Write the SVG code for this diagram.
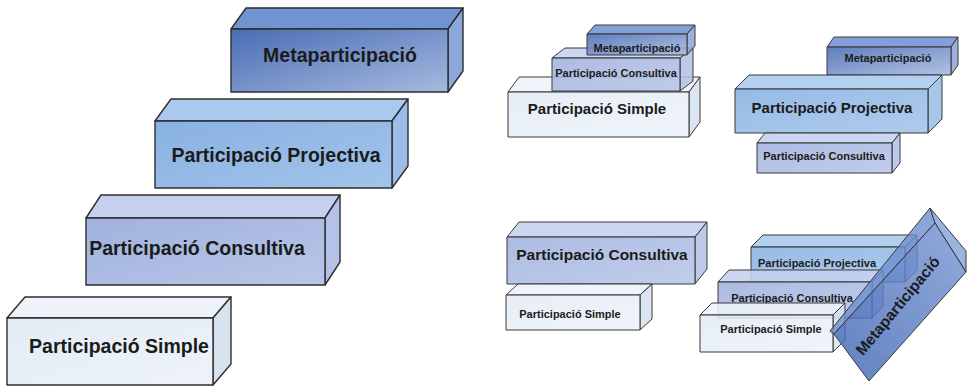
<svg xmlns="http://www.w3.org/2000/svg" width="967" height="388" viewBox="0 0 967 388">
<defs>
<linearGradient id="gMeta" x1="0" y1="0" x2="1" y2="1"><stop offset="0" stop-color="#4a6cb4"/><stop offset="1" stop-color="#a6badf"/></linearGradient>
<linearGradient id="gProj" x1="0" y1="0" x2="1" y2="1"><stop offset="0" stop-color="#88b1e2"/><stop offset="1" stop-color="#a3c4ea"/></linearGradient>
<linearGradient id="gCons" x1="0" y1="0" x2="1" y2="1"><stop offset="0" stop-color="#a0b2dd"/><stop offset="1" stop-color="#b8c6e8"/></linearGradient>
<linearGradient id="gSimp" x1="0" y1="0" x2="1" y2="1"><stop offset="0" stop-color="#e3ebf5"/><stop offset="1" stop-color="#eef3f9"/></linearGradient>
<linearGradient id="gBar" x1="0" y1="1" x2="1" y2="0"><stop offset="0" stop-color="#3f64b4"/><stop offset="1" stop-color="#7a98d4"/></linearGradient>
</defs>
<style>
.e{stroke:#2e2e2e;stroke-width:1.4;stroke-linejoin:round}
.s{stroke:#3a3a3a;stroke-width:1;stroke-linejoin:round}
.t{font-family:"Liberation Sans",Arial,sans-serif;font-weight:bold;fill:#1b1b1b;text-anchor:middle}
.mF{fill:url(#gMeta)}.mT{fill:#7193d2}.mS{fill:#8ea7da}
.pF{fill:url(#gProj)}.pT{fill:#a9c9ee}.pS{fill:#9cbde7}
.cF{fill:url(#gCons)}.cT{fill:#c4d0ee}.cS{fill:#b3c2e6}
.sF{fill:url(#gSimp)}.sT{fill:#eef3f9}.sS{fill:#d6e2ee}
.tr{fill-opacity:0.88}
</style>
<rect width="967" height="388" fill="#ffffff"/>

<!-- Left staircase -->
<g id="L-meta" class="e">
<polygon class="mT" points="231,29 246,8 463,8 448,29"/>
<polygon class="mS" points="448,29 463,8 463,71 448,92"/>
<rect class="mF" x="231" y="29" width="217" height="63"/>
<text class="t" x="340" y="62" font-size="19.5" stroke="none">Metaparticipació</text>
</g>
<g id="L-proj" class="e">
<polygon class="pT" points="155,121 171,99 408,99 392,121"/>
<polygon class="pS" points="392,121 408,99 408,166 392,188"/>
<rect class="pF" x="155" y="121" width="237" height="67"/>
<text class="t" x="276" y="162" font-size="19.5" stroke="none">Participació Projectiva</text>
</g>
<g id="L-cons" class="e">
<polygon class="cT" points="86,218 101,195 340,195 325,218"/>
<polygon class="cS" points="325,218 340,195 340,262 325,285"/>
<rect class="cF" x="86" y="218" width="239" height="67"/>
<text class="t" x="197" y="255" font-size="19.5" stroke="none">Participació Consultiva</text>
</g>
<g id="L-simp" class="e">
<polygon class="sT" points="7,318 25,297 231,297 213,318"/>
<polygon class="sS" points="213,318 231,297 231,364 213,385"/>
<rect class="sF" x="7" y="318" width="206" height="67"/>
<text class="t" x="119" y="353" font-size="19.5" stroke="none">Participació Simple</text>
</g>

<!-- Top-right group 1 (pyramid) -->
<g id="A-simp" class="s tr">
<polygon class="sT" points="508,92 519,77 700,77 689,92"/>
<polygon class="sS" points="689,92 700,77 700,122 689,137"/>
<rect class="sF" x="508" y="92" width="181" height="45"/>
<text class="t" x="597" y="114" font-size="15" stroke="none" fill-opacity="1">Participació Simple</text>
</g>
<g id="A-cons" class="s tr">
<polygon class="cT" points="552,58 565,48 693,48 680,58"/>
<polygon class="cS" points="680,58 693,48 693,81 680,91"/>
<rect class="cF" x="552" y="58" width="128" height="33"/>
<text class="t" x="616" y="77" font-size="11" stroke="none" fill-opacity="1">Participació Consultiva</text>
</g>
<g id="A-meta" class="s tr">
<polygon class="mT" points="587,34 595,25 695,25 687,34"/>
<polygon class="mS" points="687,34 695,25 695,46 687,55"/>
<rect class="mF" x="587" y="34" width="100" height="21"/>
<text class="t" x="637" y="52" font-size="11" stroke="none" fill-opacity="1">Metaparticipació</text>
</g>

<!-- Top-right group 2 -->
<g id="B-meta" class="s tr">
<polygon class="mT" points="827,47 834,37 958,37 951,47"/>
<polygon class="mS" points="951,47 958,37 958,65 951,75"/>
<rect class="mF" x="827" y="47" width="124" height="28"/>
<text class="t" x="888" y="62" font-size="11" stroke="none" fill-opacity="1">Metaparticipació</text>
</g>
<g id="B-proj" class="s tr">
<polygon class="pT" points="735,89 749,75 942,75 928,89"/>
<polygon class="pS" points="928,89 942,75 942,119 928,133"/>
<rect class="pF" x="735" y="89" width="193" height="44"/>
<text class="t" x="832" y="113" font-size="15" stroke="none" fill-opacity="1">Participació Projectiva</text>
</g>
<g id="B-cons" class="s tr">
<polygon class="cT" points="757,143 765,133 900,133 892,143"/>
<polygon class="cS" points="892,143 900,133 900,163 892,173"/>
<rect class="cF" x="757" y="143" width="135" height="30"/>
<text class="t" x="824" y="160" font-size="11" stroke="none" fill-opacity="1">Participació Consultiva</text>
</g>

<!-- Bottom-left group -->
<g id="C-cons" class="s tr">
<polygon class="cT" points="507,237 519,222 707,222 695,237"/>
<polygon class="cS" points="695,237 707,222 707,269 695,284"/>
<rect class="cF" x="507" y="237" width="188" height="47"/>
<text class="t" x="602" y="260" font-size="15.5" stroke="none" fill-opacity="1">Participació Consultiva</text>
</g>
<g id="C-simp" class="s tr">
<polygon class="sT" points="506,295 518,284 652,284 640,295"/>
<polygon class="sS" points="640,295 652,284 652,319 640,330"/>
<rect class="sF" x="506" y="295" width="134" height="35"/>
<text class="t" x="570" y="318" font-size="11" stroke="none" fill-opacity="1">Participació Simple</text>
</g>

<!-- Bottom-right group -->
<g id="D-proj" class="s tr">
<polygon class="pT" points="751,247 763,235 917,235 905,247"/>
<polygon class="pS" points="905,247 917,235 917,270 905,282"/>
<rect class="pF" x="751" y="247" width="154" height="35"/>
<text class="t" x="817" y="267" font-size="11" stroke="none" fill-opacity="1">Participació Projectiva</text>
</g>
<g id="D-cons" class="s tr">
<polygon class="cT" points="718,282 729,270 883,270 872,282"/>
<polygon class="cS" points="872,282 883,270 883,306 872,318"/>
<rect class="cF" x="718" y="282" width="154" height="36"/>
<text class="t" x="792" y="302" font-size="11" stroke="none" fill-opacity="1">Participació Consultiva</text>
</g>
<g id="D-simp" class="s tr">
<polygon class="sT" points="700,315 712,303 845,303 833,315"/>
<polygon class="sS" points="833,315 845,303 845,340 833,352"/>
<rect class="sF" x="700" y="315" width="133" height="37"/>
<text class="t" x="771" y="333" font-size="11" stroke="none" fill-opacity="1">Participació Simple</text>
</g>
<g id="D-meta" class="s">
<polygon points="830,331 930,208 935,223 834,334" fill="#6d8fd0" fill-opacity="0.8"/>
<polygon points="930,208 966,251 966,272 935,223" fill="#8aa6dc" fill-opacity="0.85"/>
<polygon points="834,334 935,223 966,272 869,381" fill="url(#gBar)" fill-opacity="0.82"/>
<text class="t" font-size="15.5" stroke="none" transform="translate(898,306) rotate(-50.5)" y="5">Metaparticipació</text>
</g>
</svg>
